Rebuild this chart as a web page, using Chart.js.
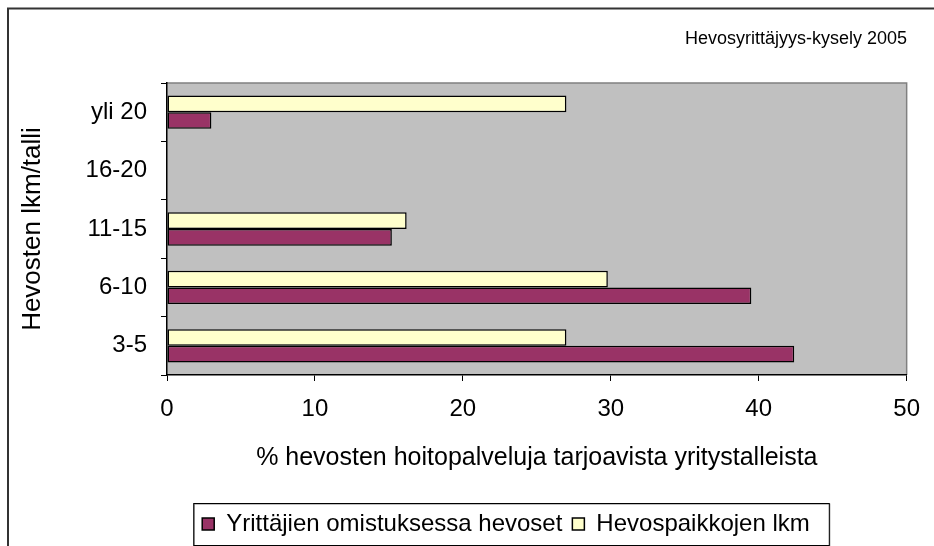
<!DOCTYPE html>
<html><head><meta charset="utf-8">
<script src="https://cdn.jsdelivr.net/npm/chart.js@4.4.1/dist/chart.umd.min.js"></script>
<style>html,body{margin:0;padding:0;background:#fff}#wrap{width:934px;height:546px;position:relative}</style>
</head><body><div id="wrap"><canvas id="c" width="934" height="546"></canvas></div>
<script>
// ---- data ----
const categories = ['yli 20', '16-20', '11-15', '6-10', '3-5'];
const omistuksessaHevoset = [3.0, 0, 15.2, 39.5, 42.4];
const hevospaikkojenLkm = [27.0, 0, 16.2, 29.8, 27.0];
const seriesNames = ['Yrittäjien omistuksessa hevoset', 'Hevospaikkojen lkm'];
const xTickValues = [0, 10, 20, 30, 40, 50];
const chartTitle = 'Hevosyrittäjyys-kysely 2005';
const xAxisTitle = '% hevosten hoitopalveluja tarjoavista yritystalleista';
const yAxisTitle = 'Hevosten lkm/talli';

const FONT = "'Liberation Sans', Arial, sans-serif";
Chart.defaults.color = '#000';
Chart.defaults.font.family = FONT;

const LEGEND_CENTER = 511;

const decor = {
  id: 'decor',
  afterLayout(chart) {
    const lg = chart.legend;
    if (!lg) return;
    const pad = lg.options.labels.padding;
    const shift = LEGEND_CENTER - (lg.left + pad + lg.right) / 2;
    lg.left += shift; lg.right += shift;
  },
  beforeDraw(chart) {
    const ctx = chart.ctx, a = chart.chartArea;
    ctx.save();
    // outer frame (top + left)
    ctx.strokeStyle = '#333';
    ctx.lineWidth = 2;
    ctx.beginPath();
    ctx.moveTo(8, 546); ctx.lineTo(8, 8.5); ctx.lineTo(934, 8.5);
    ctx.stroke();
    // plot area
    ctx.fillStyle = '#C0C0C0';
    ctx.fillRect(a.left, a.top, a.right - a.left, a.bottom - a.top);
    ctx.strokeStyle = '#808080';
    ctx.lineWidth = 1.5;
    ctx.beginPath();
    ctx.moveTo(a.left, a.top); ctx.lineTo(a.right, a.top); ctx.lineTo(a.right, a.bottom);
    ctx.stroke();
    // legend frame
    const lg = chart.legend;
    if (lg && lg.lineWidths) {
      const lw = lg.lineWidths[0];
      const x0 = LEGEND_CENTER - lw / 2 - 9, w = lw + 18;
      const y0 = lg.top + 1, h = lg.bottom - lg.top - 2;
      ctx.fillStyle = '#fff';
      ctx.fillRect(x0, y0, w, h);
      ctx.strokeStyle = '#808080'; ctx.lineWidth = 1;
      ctx.strokeRect(x0 + 1, y0 + 1, w, h);
      ctx.strokeStyle = '#000'; ctx.lineWidth = 1;
      ctx.strokeRect(x0 + 0.5, y0 + 0.5, w, h);
    }
    ctx.restore();
  }
};

new Chart(document.getElementById('c'), {
  type: 'bar',
  data: {
    labels: categories,
    datasets: [
      { label: seriesNames[1], data: hevospaikkojenLkm, backgroundColor: '#FFFFCC', borderColor: '#000', borderWidth: 1.5, borderSkipped: false },
      { label: seriesNames[0], data: omistuksessaHevoset, backgroundColor: '#993366', borderColor: '#000', borderWidth: 1.5, borderSkipped: false }
    ]
  },
  options: {
    indexAxis: 'y',
    responsive: false,
    animation: false,
    devicePixelRatio: 1,
    categoryPercentage: 0.57,
    barPercentage: 1.0,
    layout: { padding: { left: 10, right: 27, top: 0, bottom: 0 } },
    plugins: {
      title: {
        display: true, text: chartTitle, align: 'end', color: '#000',
        font: { family: FONT, size: 18, weight: 'normal' },
        padding: { top: 28, bottom: 33.4 }
      },
      legend: {
        position: 'bottom', reverse: true,
        labels: {
          color: '#000', boxWidth: 12, boxHeight: 12, padding: 10,
          font: { family: FONT, size: 24 }
        }
      },
      tooltip: { enabled: false }
    },
    scales: {
      x: {
        min: 0, max: 50,
        afterBuildTicks(s) { s.ticks = xTickValues.map(v => ({ value: v })); },
        afterFit(s) { s.height = 127; },
        grid: { drawOnChartArea: false, drawTicks: true, tickLength: 6, color: '#000', lineWidth: 1 },
        border: { color: '#000', width: 1.5 },
        ticks: { padding: 14, font: { family: FONT, size: 24 }, color: '#000' },
        title: { display: true, text: xAxisTitle, color: '#000', font: { family: FONT, size: 25 }, padding: { top: 0, bottom: 29 } }
      },
      y: {
        afterFit(s) { s.width = 157; },
        grid: { drawOnChartArea: false, drawTicks: true, tickLength: 6, color: '#000', lineWidth: 1, offset: true },
        border: { color: '#000', width: 1.5 },
        ticks: { padding: 14, font: { family: FONT, size: 24 }, color: '#000' },
        title: { display: true, text: yAxisTitle, color: '#000', font: { family: FONT, size: 26 }, padding: { top: 7, bottom: 0 } }
      }
    }
  },
  plugins: [decor]
});
</script>
</body></html>
